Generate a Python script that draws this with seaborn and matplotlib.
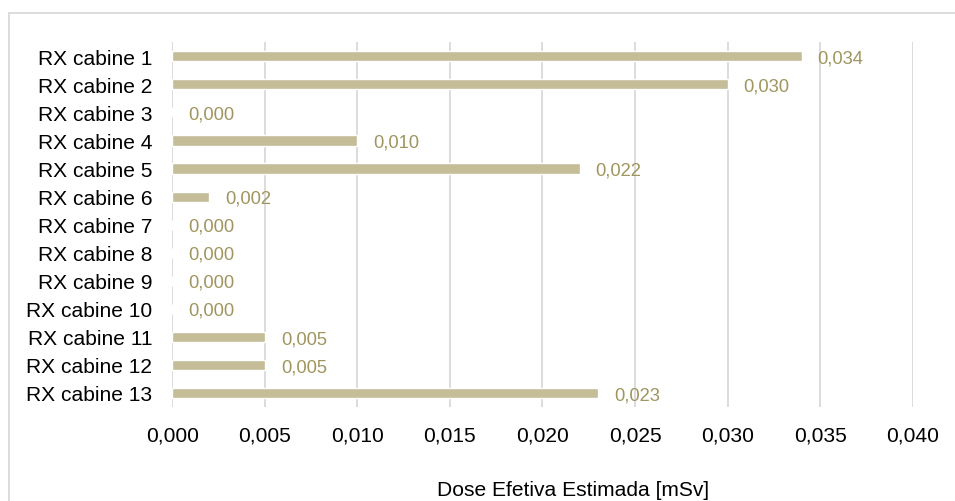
import matplotlib
matplotlib.use("Agg")
import matplotlib.pyplot as plt
import seaborn as sns
import pandas as pd
from matplotlib.patches import Rectangle
from matplotlib.ticker import FixedLocator, FuncFormatter

# Dose per cabin
categories = [f"RX cabine {i}" for i in range(1, 14)]
doses = [0.034, 0.030, 0.000, 0.010, 0.022, 0.002, 0.000,
         0.000, 0.000, 0.000, 0.005, 0.005, 0.023]
x_ticks = [0.000, 0.005, 0.010, 0.015, 0.020, 0.025, 0.030, 0.035, 0.040]
x_title = "Dose Efetiva Estimada [mSv]"

BAR = "#C4BD97"
LABEL = "#A0955E"
GRID = "#D9D9D9"

sns.set_theme(style="white")
plt.rcParams["font.family"] = ["Liberation Sans", "DejaVu Sans"]

df = pd.DataFrame({"categoria": categories, "dose": doses})

fig = plt.figure(figsize=(9.55, 5.02), dpi=100)
fig.patch.set_facecolor("white")
ax = fig.add_axes([0.1804, 0.1873, 0.9557 - 0.1804, 0.9137 - 0.1873])

sns.barplot(data=df, x="dose", y="categoria", orient="h", color=BAR,
            saturation=1, width=0.36, ax=ax)

ax.set_xlim(0, 0.040)
ax.set_ylim(12.5, -0.5)
ax.xaxis.set_major_locator(FixedLocator(x_ticks))
ax.xaxis.set_major_formatter(FuncFormatter(lambda v, p: f"{v:.3f}".replace(".", ",")))
ax.grid(axis="x", color=GRID, linewidth=1.3)
ax.grid(axis="y", visible=False)
ax.set_axisbelow(True)
for s in ax.spines.values():
    s.set_visible(False)
ax.tick_params(axis="both", length=0, labelsize=15.1, colors="black")
ax.tick_params(axis="y", pad=14.5)
ax.tick_params(axis="x", pad=13.0)
ax.set_xlabel("")
ax.set_ylabel("")

# value labels to the right of each bar
for i, v in enumerate(doses):
    ax.annotate(f"{v:.3f}".replace(".", ","), xy=(v, i), xytext=(11.5, -1.2),
                textcoords="offset points", ha="left", va="center",
                fontsize=13.2, color=LABEL)

fig.text(573 / 955, 1.5 / 502, x_title, ha="center", va="bottom",
         fontsize=15.1, color="black")

# chart-area border
fig.patches.append(Rectangle((9 / 955, -0.05), 1.0, 1 - 14 / 502 + 0.05,
                             transform=fig.transFigure, fill=False,
                             edgecolor=GRID, linewidth=1.3))

fig.savefig("out.png", dpi=100)
